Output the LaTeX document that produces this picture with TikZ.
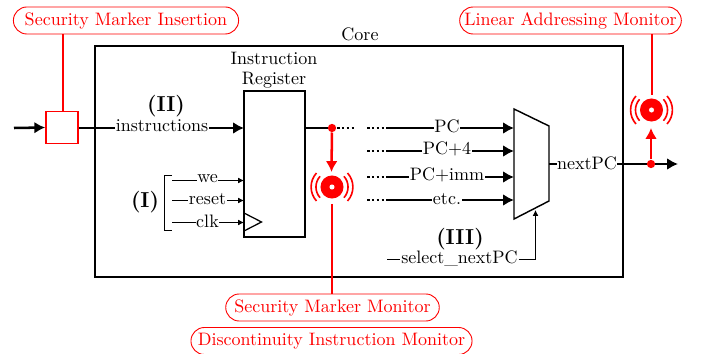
\documentclass[tikz,border=0pt]{standalone}
\usetikzlibrary{arrows.meta,calc}
\definecolor{mred}{RGB}{255,0,0}
\tikzset{
  thickln/.style={line width=1.4pt,-{Latex[length=6pt,width=6.5pt]}},
  plainln/.style={line width=1.4pt},
  thinln/.style={line width=0.55pt,-{Latex[length=3.2pt,width=3.2pt]}},
  pill/.style={draw=mred,text=mred,rounded corners=7.5pt,line width=0.5pt,minimum height=15pt,inner sep=0pt,fill=white},
  lbl/.style={fill=white,inner sep=0.3pt},
  redln/.style={mred,line width=0.6pt},
  redarr/.style={mred,line width=1.4pt,-{Latex[length=6pt,width=6.5pt]}},
  dotline/.style={line width=1.4pt,dash pattern=on 1.4pt off 1.3pt},
  rdot/.style={circle,fill=mred,inner sep=0pt,minimum size=4.6pt},
  beacon/.style={circle,inner sep=0pt,minimum size=12.8pt,fill=mred},
  big/.style={font=\large\bfseries}
}
\newcommand{\beaconmark}[1]{%
  \fill[white] (#1) circle (1.4pt);
  \foreach \r in {8.9pt,11.6pt}{
    \draw[mred,line width=0.9pt] ($(#1)+(42:\r)$) arc (42:-42:\r);
    \draw[mred,line width=0.9pt] ($(#1)+(138:\r)$) arc (138:222:\r);
  }
}
\begin{document}
\begin{tikzpicture}[x=0.555pt,y=-0.555pt]
\useasboundingbox (0,0) rectangle (713,354);
% core and register
\node[draw,line width=0.8pt,minimum width=293pt,minimum height=128.2pt,inner sep=0pt] (core) at (359,161.5) {};
\node[anchor=south,inner sep=1pt] (corelabel) at (360,43) {Core};
\node[draw,line width=0.8pt,fill=white,minimum width=33.9pt,minimum height=81pt,inner sep=0pt] (reg) at (274.5,164) {};
\node (reglabel1) at (274,58) {Instruction};
\node (reglabel2) at (274,80) {Register};
\coordinate (ck1) at (244,213);
\coordinate (ck2) at (261.5,222);
\coordinate (ck3) at (244,231);
\draw[line width=0.7pt] (ck1) -- (ck2) -- (ck3);
% mux
\coordinate (m1) at (514,109);
\coordinate (m2) at (549,126);
\coordinate (m3) at (549,201);
\coordinate (m4) at (514,219);
\draw[line width=0.8pt,fill=white] (m1) -- (m2) -- (m3) -- (m4) -- cycle;
% monitors and markers
\node[pill,minimum width=125pt] (smi) at (126,20.5) {Security Marker Insertion};
\node[pill,minimum width=123pt] (lam) at (570.5,20.5) {Linear Addressing Monitor};
\node[pill,minimum width=118.5pt] (smm) at (332.5,307.5) {Security Marker Monitor};
\node[pill,minimum width=156pt] (dim) at (331.5,341) {Discontinuity Instruction Monitor};
\node[draw=mred,line width=1pt,fill=white,minimum size=17.7pt,inner sep=0pt] (ins) at (62,127.5) {};
\draw[redln] ($(ins.north)+(1,0)$) -- ($(ins.north |- smi.south)+(1,0)$);
\coordinate (inL) at (14,128);
\draw[thickln] (inL) -- (ins.west);
% instructions
\coordinate (regIn) at (244,128);
\node[lbl] (instr) at (162,126) {instructions};
\draw[plainln] (ins.east |- 0,128) -- (instr.west |- 0,128);
\draw[thickln] (instr.east |- 0,128) -- (regIn);
\node[big] (ii) at (166,106) {(II)};
% register out
\coordinate (regOut) at (305,128);
\node[rdot] (d1) at (332,128) {};
\node[beacon] (b1) at (332,187) {};
\beaconmark{b1}
\draw[plainln] (regOut) -- (d1);
\draw[redarr] (d1) -- (331.5,172);
\coordinate (b1s) at (332,204);
\draw[redln] (b1s) -- (b1s |- smm.north);
\coordinate (r1a) at (337,128);
\coordinate (r1b) at (354,128);
\draw[dotline] (r1a) -- (r1b);
% mux inputs
\foreach \y/\ly/\t/\n in {128/126/PC/a,151/149/PC+4/b,177/174.5/PC+imm/c,200/199/etc./d}{
  \coordinate (s\n) at (367,\y);
  \coordinate (t\n) at (386,\y);
  \coordinate (e\n) at (514,\y);
  \draw[dotline] (s\n) -- (t\n);
  \draw[thickln] (t\n) -- (e\n);
  \node[lbl] (l\n) at (447,\ly) {\t};
}
% next PC
\coordinate (mo) at (549,164);
\coordinate (outR) at (678,164);
\draw[thickln] (mo) -- (outR);
\node[lbl] (npc) at (587,163) {nextPC};
\node[rdot] (d2) at (651,164) {};
\node[beacon] (b2) at (651.5,110) {};
\beaconmark{b2}
\draw[redarr] (d2) -- (651,128);
\coordinate (b2n) at (652,95);
\draw[redln] (b2n) -- (b2n |- lam.south);
% control inputs
\foreach \y/\ly/\t/\n in {180.5/179/we/w,200.5/199.5/reset/r,222.5/221/clk/k}{
  \coordinate (cs\n) at (172,\y);
  \coordinate (ce\n) at (244,\y);
  \draw[thinln] (cs\n) -- (ce\n);
  \node[lbl] (cl\n) at (207.5,\ly) {\t};
}
\coordinate (br1) at (172,175.5);
\coordinate (br2) at (164,175.5);
\coordinate (br3) at (164,230);
\coordinate (br4) at (172,230);
\draw[line width=0.55pt] (br1) -- (br2) -- (br3) -- (br4);
\node[big] (i) at (145,202) {(I)};
% select
\node[big] (iii) at (460,239) {(III)};
\node[lbl] (sel) at (459.5,258) {select\_nextPC};
\coordinate (selL) at (387,259);
\coordinate (selT) at (535.5,210);
\draw[line width=0.55pt] (selL) -- (sel.west |- selL);
\draw[thinln] (sel.east |- selL) -| (selT);
\end{tikzpicture}
\end{document}
